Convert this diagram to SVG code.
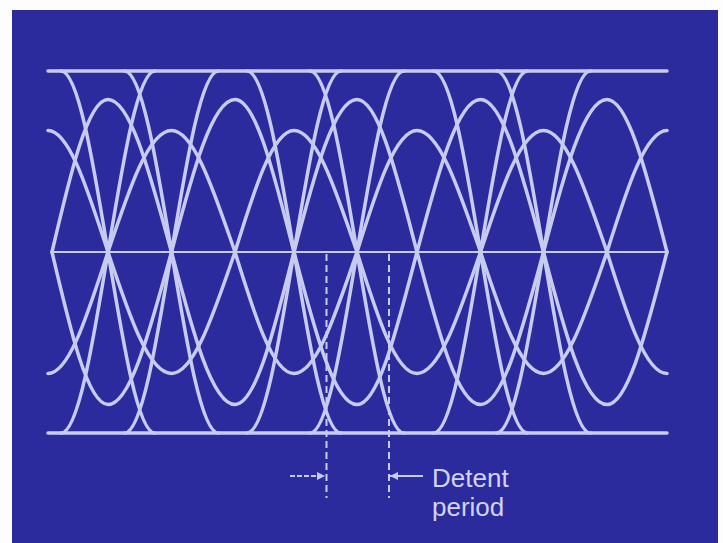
<svg xmlns="http://www.w3.org/2000/svg" width="723" height="543" viewBox="0 0 723 543">
<defs>
<style>
.tr{fill:none;stroke:#c8cbf0;stroke-width:3.5;stroke-linecap:round;stroke-linejoin:round}
.ax{fill:none;stroke:#c8cbf0;stroke-width:2}
.dash{fill:none;stroke:#c8cbf0;stroke-width:2;stroke-dasharray:7 4}
.lbl{font-family:"Liberation Sans",Arial,sans-serif;font-size:26px;fill:#d2d4f6}
</style>
<marker id="ah" viewBox="0 0 10 10" refX="10" refY="5" markerWidth="10" markerHeight="8" markerUnits="userSpaceOnUse" orient="auto">
<path d="M0,0 L10,5 L0,10 z" fill="#c8cbf0"/>
</marker>
</defs>
<rect x="0" y="0" width="723" height="543" fill="#fdfdfd"/>
<rect x="12" y="10" width="706" height="533" fill="#2b2b9e"/>
<g id="traces">
<path class="ax" d="M52,252 H667"/>
<path class="tr" d="M48,71 H667"/>
<path class="tr" d="M48,433 H667"/>
<!-- 4T sinusoids, amplitude 152.5 -->
<path class="tr" d="M52,252 c18.26,-78.13 35.73,-152.5 56,-152.5 c22.99,0 42.79,78.13 63.5,152.5 c20.71,78.13 40.51,152.5 63.5,152.5 c21.36,0 39.76,-78.13 59,-152.5 c20.54,-78.13 40.19,-152.5 63,-152.5 c21.72,0 40.43,78.13 60,152.5 c20.71,78.13 40.51,152.5 63.5,152.5 c22.81,0 42.46,-78.13 63,-152.5 c20.71,-78.13 40.51,-152.5 63.5,-152.5 c21.72,0 40.43,78.13 60,152.5"/>
<path class="tr" d="M52,252 c18.26,78.13 35.73,152.5 56,152.5 c22.99,0 42.79,-78.13 63.5,-152.5 c20.71,-78.13 40.51,-152.5 63.5,-152.5 c21.36,0 39.76,78.13 59,152.5 c20.54,78.13 40.19,152.5 63,152.5 c21.72,0 40.43,-78.13 60,-152.5 c20.71,-78.13 40.51,-152.5 63.5,-152.5 c22.81,0 42.46,78.13 63,152.5 c20.71,78.13 40.51,152.5 63.5,152.5 c21.72,0 40.43,-78.13 60,-152.5"/>
<!-- 4T sinusoids, amplitude 121.5 -->
<path class="tr" d="M48,130.5 c21.72,0 40.43,62.24 60,121.5 c20.71,62.24 40.51,121.5 63.5,121.5 c22.99,0 42.79,-62.24 63.5,-121.5 c19.24,-62.24 37.64,-121.5 59,-121.5 c22.81,0 42.46,62.24 63,121.5 c19.57,62.24 38.28,121.5 60,121.5 c22.99,0 42.79,-62.24 63.5,-121.5 c20.54,-62.24 40.19,-121.5 63,-121.5 c22.99,0 42.79,62.24 63.5,121.5 c19.57,62.24 38.28,121.5 60,121.5"/>
<path class="tr" d="M48,373.5 c21.72,0 40.43,-62.24 60,-121.5 c20.71,-62.24 40.51,-121.5 63.5,-121.5 c22.99,0 42.79,62.24 63.5,121.5 c19.24,62.24 37.64,121.5 59,121.5 c22.81,0 42.46,-62.24 63,-121.5 c19.57,-62.24 38.28,-121.5 60,-121.5 c22.99,0 42.79,62.24 63.5,121.5 c20.54,62.24 40.19,121.5 63,121.5 c22.99,0 42.79,-62.24 63.5,-121.5 c19.57,-62.24 38.28,-121.5 60,-121.5"/>
<!-- full-swing transitions -->
<path class="tr" d="M61,71 c17,0 31.67,88.27 47,181 c15.33,92.73 30,181 47,181 M61,433 c17,0 31.67,-88.27 47,-181 c15.33,-92.73 30,-181 47,-181"/>
<path class="tr" d="M124.5,71 c17,0 31.67,88.27 47,181 c15.33,92.73 30,181 47,181 M124.5,433 c17,0 31.67,-88.27 47,-181 c15.33,-92.73 30,-181 47,-181"/>
<path class="tr" d="M247,71 c17,0 31.67,88.27 47,181 c15.33,92.73 30,181 47,181 M247,433 c17,0 31.67,-88.27 47,-181 c15.33,-92.73 30,-181 47,-181"/>
<path class="tr" d="M310,71 c17,0 31.67,88.27 47,181 c15.33,92.73 30,181 47,181 M310,433 c17,0 31.67,-88.27 47,-181 c15.33,-92.73 30,-181 47,-181"/>
<path class="tr" d="M433.5,71 c17,0 31.67,88.27 47,181 c15.33,92.73 30,181 47,181 M433.5,433 c17,0 31.67,-88.27 47,-181 c15.33,-92.73 30,-181 47,-181"/>
<path class="tr" d="M496.5,71 c17,0 31.67,88.27 47,181 c15.33,92.73 30,181 47,181 M496.5,433 c17,0 31.67,-88.27 47,-181 c15.33,-92.73 30,-181 47,-181"/>
</g>
<g id="annotation">
<path class="dash" d="M326.5,254 V498"/>
<path class="dash" d="M389,254 V498"/>
<path fill="none" stroke="#c8cbf0" stroke-width="2" stroke-dasharray="5 2" d="M290,476 H325" marker-end="url(#ah)"/>
<path fill="none" stroke="#c8cbf0" stroke-width="2" d="M423,476 H390" marker-end="url(#ah)"/>
<text class="lbl" x="432" y="487">Detent</text>
<text class="lbl" x="432" y="516">period</text>
</g>
</svg>
